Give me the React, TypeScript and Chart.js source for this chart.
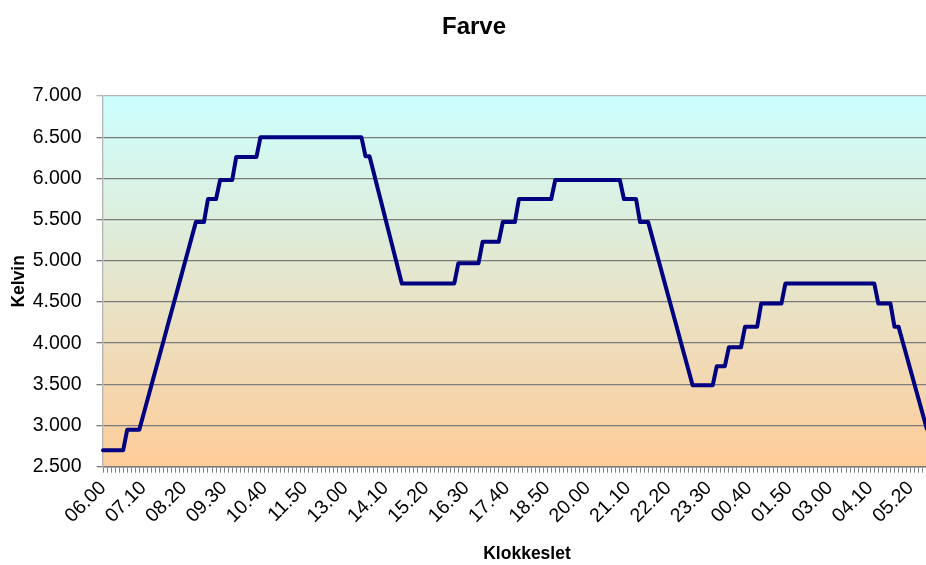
import { useEffect, useRef } from 'react';
import { Chart, registerables } from 'chart.js';

Chart.register(...registerables);

// Category axis: clock times from 06.00 in 7-minute steps
const startMinutes = 6 * 60;
const stepMinutes = 7;
const categoryCount = 211;
const categories: string[] = Array.from({ length: categoryCount }, (_, i) => {
  const m = (startMinutes + i * stepMinutes) % 1440;
  return `${String(Math.floor(m / 60)).padStart(2, '0')}.${String(m % 60).padStart(2, '0')}`;
});

// Visible tick labels (every 10th category)
const tickLabels = [
  '06.00', '07.10', '08.20', '09.30', '10.40', '11.50', '13.00', '14.10', '15.20', '16.30',
  '17.40', '18.50', '20.00', '21.10', '22.20', '23.30', '00.40', '01.50', '03.00', '04.10', '05.20',
];
const labelEvery = 10;

// Colour temperature (Kelvin) per category
const kelvin = [
  2700, 2700, 2700, 2700, 2700, 2700,
  2950, 2950, 2950, 2950,
  3130, 3310, 3490, 3670, 3850, 4030, 4210, 4390, 4570, 4750, 4930, 5110, 5290,
  5470, 5470, 5470,
  5750, 5750, 5750,
  5980, 5980, 5980, 5980,
  6260, 6260, 6260, 6260, 6260, 6260,
  6500, 6500, 6500, 6500, 6500, 6500, 6500, 6500, 6500, 6500,
  6500, 6500, 6500, 6500, 6500, 6500, 6500, 6500, 6500, 6500,
  6500, 6500, 6500, 6500, 6500, 6500,
  6270, 6270,
  6077, 5884, 5691, 5498, 5305, 5112, 4919,
  4725, 4725, 4725, 4725, 4725, 4725, 4725, 4725, 4725, 4725, 4725, 4725, 4725, 4725,
  4970, 4970, 4970, 4970, 4970, 4970,
  5230, 5230, 5230, 5230, 5230,
  5470, 5470, 5470, 5470,
  5750, 5750, 5750, 5750, 5750, 5750, 5750, 5750, 5750,
  5980, 5980, 5980, 5980, 5980, 5980, 5980, 5980, 5980, 5980,
  5980, 5980, 5980, 5980, 5980, 5980, 5980,
  5750, 5750, 5750, 5750,
  5470, 5470, 5470,
  5290, 5110, 4930, 4750, 4570, 4390, 4210, 4030, 3850, 3670,
  3490, 3490, 3490, 3490, 3490, 3490,
  3720, 3720, 3720,
  3950, 3950, 3950, 3950,
  4200, 4200, 4200, 4200,
  4480, 4480, 4480, 4480, 4480, 4480,
  4725, 4725, 4725, 4725, 4725, 4725, 4725, 4725, 4725, 4725,
  4725, 4725, 4725, 4725, 4725, 4725, 4725, 4725, 4725, 4725,
  4725, 4725, 4725,
  4480, 4480, 4480, 4480,
  4200, 4200,
  4023, 3846, 3669, 3492, 3315, 3138, 2961,
];

const yMin = 2500;
const yMax = 7000;
const yStep = 500;

const FONT = "'Liberation Sans', Arial, sans-serif";

const formatDa = (v: number) => {
  const thousands = Math.floor(v / 1000);
  const rest = Math.round(v % 1000);
  return `${thousands}.${String(rest).padStart(3, '0')}`;
};

const plotBackground = {
  id: 'plotBackground',
  beforeDraw(chart: any) {
    const { ctx, chartArea } = chart;
    if (!chartArea) return;
    const { left, top, right, bottom } = chartArea;
    const g = ctx.createLinearGradient(0, top, 0, bottom);
    g.addColorStop(0, '#CCFFFF');
    g.addColorStop(1, '#FFCC99');
    ctx.save();
    ctx.fillStyle = g;
    ctx.fillRect(left, top, right - left, bottom - top);
    ctx.restore();
  },
};

export default function App() {
  const canvasRef = useRef<HTMLCanvasElement>(null);

  useEffect(() => {
    if (!canvasRef.current) return;
    const chart = new Chart(canvasRef.current, {
      type: 'line',
      data: {
        labels: categories,
        datasets: [
          {
            label: 'Farve',
            data: kelvin,
            borderColor: '#000080',
            borderWidth: 4,
            pointRadius: 0,
            tension: 0,
            fill: false,
            borderJoinStyle: 'round',
            borderCapStyle: 'round',
          },
        ],
      },
      options: {
        animation: false,
        responsive: true,
        maintainAspectRatio: false,
        layout: { padding: 0 },
        plugins: {
          legend: { display: false },
          tooltip: { enabled: false },
          title: {
            display: true,
            text: 'Farve',
            color: '#000',
            font: { family: FONT, size: 24, weight: 'bold' },
            padding: { top: 12.8, bottom: 54.4 },
          },
        },
        scales: {
          x: {
            type: 'category',
            offset: false,
            grid: {
              display: true,
              drawOnChartArea: false,
              drawTicks: true,
              tickLength: 6,
              color: '#808080',
              lineWidth: 1,
            },
            border: { display: true, color: '#7a7a7a', width: 1.5 },
            ticks: {
              autoSkip: false,
              minRotation: 45,
              maxRotation: 45,
              padding: 4,
              color: '#000',
              font: { family: FONT, size: 19.5 },
              callback: (_v: any, idx: number) =>
                idx % labelEvery === 0 ? tickLabels[idx / labelEvery] ?? '' : '',
            },
            title: {
              display: true,
              text: 'Klokkeslet',
              color: '#000',
              font: { family: FONT, size: 17.5, weight: 'bold' },
              padding: { top: 0, bottom: 0 },
            },
            afterFit: (scale: any) => {
              scale.height = 98.3;
              scale.paddingLeft = 0;
              scale.paddingRight = 0;
            },
          },
          y: {
            min: yMin,
            max: yMax,
            grid: {
              color: (c: any) => (c.tick && c.tick.value === yMax ? '#b4b4b4' : '#7a7a7a'),
              lineWidth: 1.3,
              tickLength: 6.5,
            },
            border: { display: true, color: '#b4b4b4', width: 1.3 },
            ticks: {
              stepSize: yStep,
              padding: 15,
              color: '#000',
              font: { family: FONT, size: 19.5 },
              callback: (v: any) => formatDa(Number(v)),
            },
            title: {
              display: true,
              text: 'Kelvin',
              color: '#000',
              font: { family: FONT, size: 17.5, weight: 'bold' },
              padding: { top: 11.3, bottom: 0 },
            },
            afterFit: (scale: any) => {
              scale.width = 106;
            },
          },
        },
      },
      plugins: [plotBackground],
    });
    return () => chart.destroy();
  }, []);

  return (
    <div
      style={{
        position: 'fixed',
        left: 0,
        top: 0,
        width: 926,
        height: 565,
        overflow: 'hidden',
        background: '#ffffff',
      }}
    >
      <div style={{ position: 'absolute', left: -3, top: 0, width: 954, height: 565 }}>
        <canvas ref={canvasRef} />
      </div>
    </div>
  );
}
